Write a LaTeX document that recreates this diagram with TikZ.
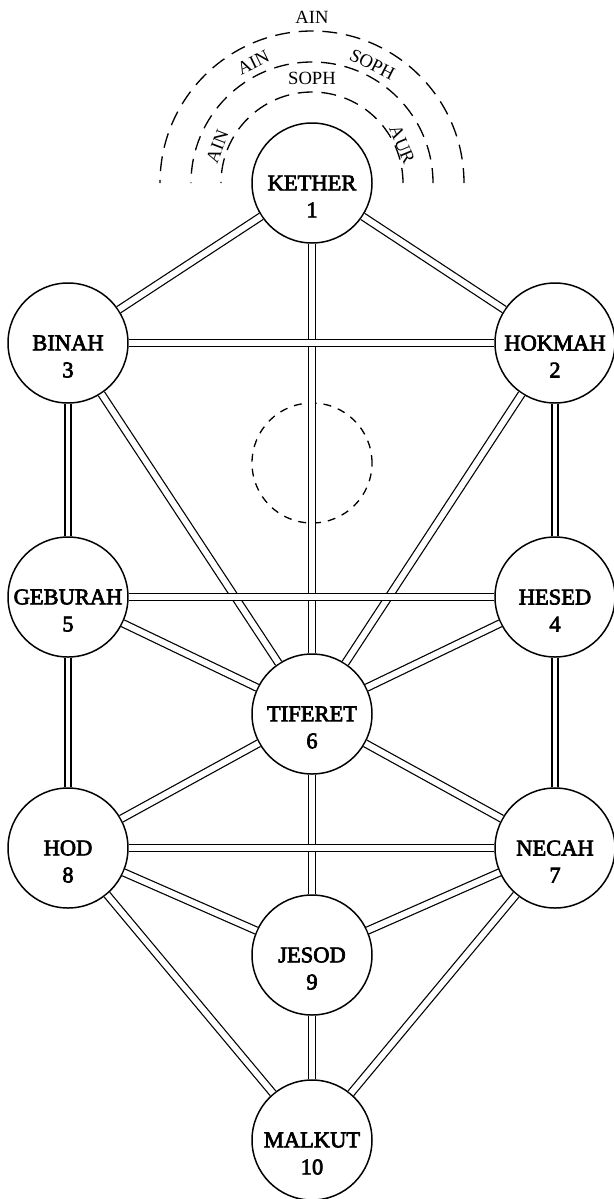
\documentclass[tikz,border=0pt]{standalone}
\usepackage{fontspec}
\setmainfont{Liberation Serif}
\newfontfamily\sefirafont[FakeBold=3]{Liberation Serif}
\usetikzlibrary{calc}

\tikzset{
  sefira/.style={circle, draw, line width=0.85pt, fill=white, minimum size=2.4cm, inner sep=0pt},
  nome/.style={align=center, inner sep=0pt, font=\sefirafont\fontsize{12.8}{15.4}\selectfont},
  caminho/.style={line width=0.7pt, double=white, double distance=3.4pt},
  pilar/.style={line width=1.5pt, double=white, double distance=2pt},
  arco/.style={line width=0.75pt, dash pattern=on 8.5pt off 5pt},
  escrita/.style={inner sep=0pt, font=\fontsize{10.6}{12}\selectfont},
}

\begin{document}
\begin{tikzpicture}
\useasboundingbox (0,0) rectangle (12.28,-23.98);

% Sefirot
\foreach \id/\txt/\k/\x/\y in {kether/KETHER/1/6.24/-3.66, hokmah/HOKMAH/2/11.10/-6.86,
    binah/BINAH/3/1.36/-6.86, hesed/HESED/4/11.10/-11.94, geburah/GEBURAH/5/1.36/-11.94,
    tiferet/TIFERET/6/6.24/-14.28, necah/NECAH/7/11.10/-16.96, hod/HOD/8/1.36/-16.96,
    jesod/JESOD/9/6.24/-19.10, malkut/MALKUT/10/6.24/-22.80}
{
	\node[sefira] (\id) at (\x,\y) {};
	\node[nome] (\id-txt) at (\x,\y-0.27) {\txt\\\k};
}

\node[circle, draw, line width=0.75pt, dash pattern=on 4.5pt off 4pt, minimum size=2.4cm, inner sep=0pt] (daath) at (6.24,-9.26) {};

% Arcos sobre Kether
\foreach \r in {1.82, 2.42, 3.04}
	\draw[arco] ($(kether)+(\r,0)$) arc[start angle=0, end angle=180, radius=\r];

\node[escrita] (ain1) at ($(kether)+(159:2.03)$) [rotate=69] {AIN};
\node[escrita] (soph1) at ($(kether)+(90:2.10)$) {SOPH};
\node[escrita] (aur1) at ($(kether)+(23:1.96)$) [rotate=-67] {AUR};
\node[escrita] (ain2) at ($(kether)+(116:2.68)$) [rotate=26] {AIN};
\node[escrita] (soph2) at ($(kether)+(63:2.66)$) [rotate=-27] {SOPH};
\node[escrita] (ain3) at ($(kether)+(90:3.32)$) {AIN};

% Caminhos
\foreach \a/\b in {kether/hokmah, kether/binah, kether/tiferet, hokmah/binah,
    hokmah/tiferet, binah/tiferet, hesed/geburah, hesed/tiferet, geburah/tiferet,
    tiferet/necah, tiferet/hod, tiferet/jesod, necah/hod, necah/jesod, hod/jesod,
    necah/malkut, hod/malkut, jesod/malkut}
	\draw[caminho] (\a) -- (\b);

% Pilares
\foreach \a/\b in {hokmah/hesed, hesed/necah, binah/geburah, geburah/hod}
	\draw[pilar] (\a) -- (\b);

\end{tikzpicture}
\end{document}
